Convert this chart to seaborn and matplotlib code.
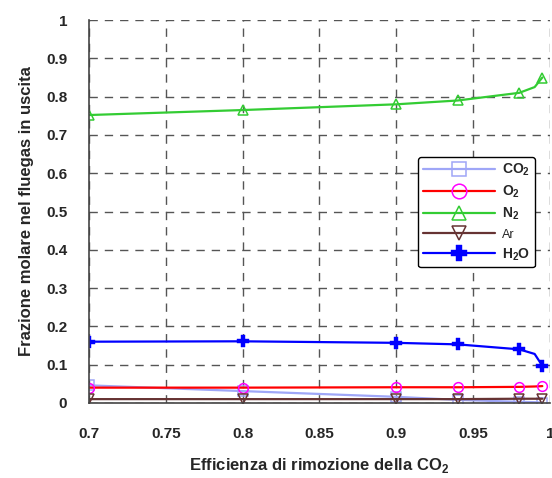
import matplotlib
matplotlib.use("Agg")
import matplotlib.pyplot as plt
import seaborn as sns
import numpy as np
from matplotlib.ticker import MultipleLocator

sns.set_theme(style="white")
plt.rcParams['font.family'] = ['Liberation Sans', 'DejaVu Sans']
plt.rcParams['mathtext.fontset'] = 'custom'
plt.rcParams['mathtext.rm'] = 'Liberation Sans'
plt.rcParams['mathtext.bf'] = 'Liberation Sans:bold'

efficienza = [0.70, 0.80, 0.90, 0.94, 0.98, 0.99, 0.995]
co2 = [0.046, 0.031, 0.016, 0.008, 0.003, 0.002, 0.001]
o2 = [0.040, 0.040, 0.041, 0.041, 0.042, 0.043, 0.044]
n2 = [0.752, 0.765, 0.780, 0.790, 0.810, 0.825, 0.850]
ar = [0.010, 0.010, 0.010, 0.010, 0.011, 0.011, 0.011]
h2o = [0.160, 0.161, 0.157, 0.153, 0.140, 0.128, 0.097]
marker_idx = [0, 1, 2, 3, 4, 6]

series = [
    (co2, r"$\mathbf{CO_2}$", "#9fa6f7", "s", "#9fa6f7", "none", 7, 1.1),
    (o2, r"$\mathbf{O_2}$", "#ff0000", "o", "#ff00ff", "none", 7, 1.1),
    (n2, r"$\mathbf{N_2}$", "#33cc33", "^", "#33cc33", "none", 7, 1.1),
    (ar, "Ar", "#663333", "v", "#663333", "none", 7, 1.1),
    (h2o, r"$\mathbf{H_2O}$", "#0000ff", "P", "#0000ff", "#0000ff", 8, 0.3),
]

fig = plt.figure(figsize=(5.52, 4.78), dpi=100)
ax = fig.add_axes([0.161, 0.157, 0.8354, 0.801])

for vals, lab, col, mk, mec, mfc, ms, mew in series:
    sns.lineplot(x=efficienza, y=vals, ax=ax, color=col, linewidth=1.6,
                 marker=mk, markersize=ms, markeredgecolor=mec,
                 markerfacecolor=mfc, markeredgewidth=mew,
                 markevery=marker_idx, label=lab)

ax.set_xlim(0.7, 1.0)
ax.set_ylim(0, 1.0)
ax.xaxis.set_minor_locator(MultipleLocator(0.025))
ax.yaxis.set_minor_locator(MultipleLocator(0.05))

xt = [0.7, 0.75, 0.8, 0.85, 0.9, 0.95, 1.0]
ax.set_xticks(xt)
ax.set_xticklabels(["0.7", "0.75", "0.8", "0.85", "0.9", "0.95", "1"])
yt = np.round(np.arange(0, 1.01, 0.1), 1)
ax.set_yticks(yt)
ax.set_yticklabels(["0", "0.1", "0.2", "0.3", "0.4", "0.5", "0.6", "0.7", "0.8", "0.9", "1"])

ax.grid(True, which="major", color="#555555", linestyle=(0, (6, 5)), linewidth=1)
for s in ["top", "right"]:
    ax.spines[s].set_visible(False)
ax.spines["left"].set_color("#444444")
ax.spines["bottom"].set_color("#444444")
ax.spines["left"].set_linewidth(1.2)
ax.spines["bottom"].set_linewidth(1.2)

ax.tick_params(axis="y", which="major", direction="out", color="#444444",
               length=10, width=1.2, labelsize=11, pad=5.5)
ax.tick_params(axis="x", which="major", direction="out", color="#444444",
               length=10.8, width=1.2, labelsize=11, pad=6.5)
ax.tick_params(axis="both", which="minor", direction="out", color="#444444",
               length=5.2, width=1.2)
for lbl in ax.get_xticklabels() + ax.get_yticklabels():
    lbl.set_fontweight("bold")

ax.set_xlabel(r"Efficienza di rimozione della CO$_\mathbf{2}$", fontsize=12,
              fontweight="bold", labelpad=11)
ax.set_ylabel("Frazione molare nel fluegas in uscita", fontsize=12,
              fontweight="bold", labelpad=9)

leg = ax.legend(loc="upper left", bbox_to_anchor=(0.714, 0.642), borderaxespad=0,
                frameon=True, fancybox=True, edgecolor="black", fontsize=10,
                handlelength=5.2, markerscale=1.5,
                borderpad=0.35, labelspacing=0.4, handletextpad=0.5)
leg.get_frame().set_linewidth(1.0)
leg.get_frame().set_alpha(1)
for t in leg.get_texts():
    if t.get_text() == "Ar":
        t.set_fontsize(9)

fig.savefig("out.png", dpi=100)
